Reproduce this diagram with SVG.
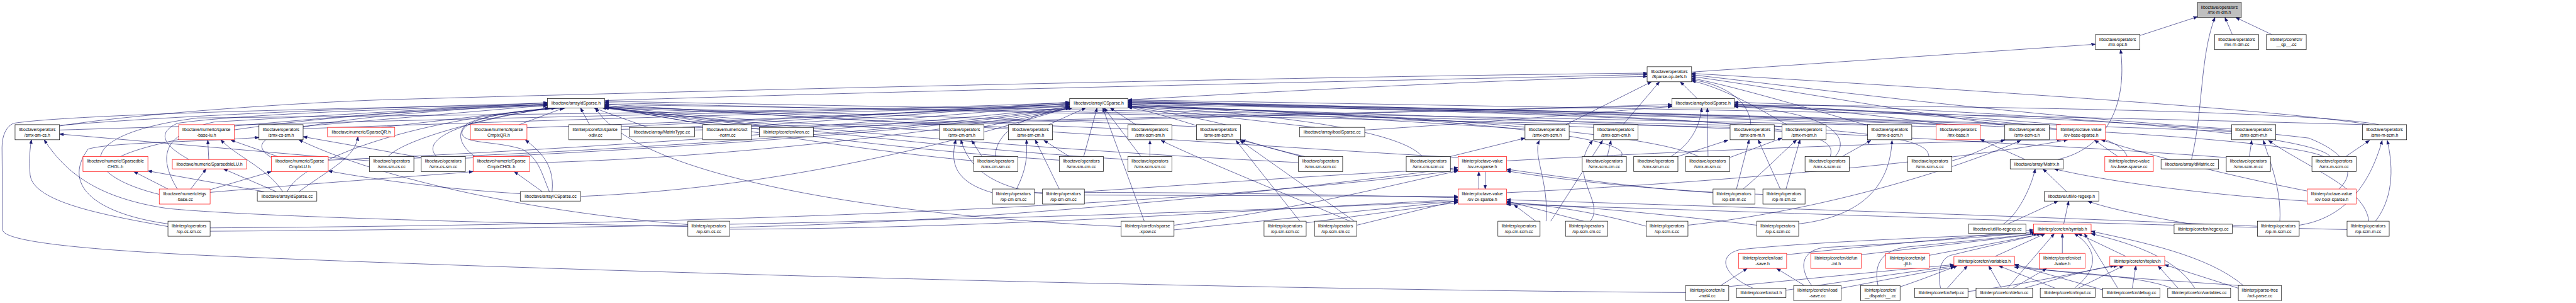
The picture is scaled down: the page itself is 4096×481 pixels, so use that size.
<svg xmlns="http://www.w3.org/2000/svg" width="4096" height="481" viewBox="0 0 4096 481">
<defs>
<style>
.n rect{fill:#fff;stroke:#000;stroke-width:1.3}
.r rect{stroke:#f00}
.g rect{fill:#bfbfbf}
text{font-family:"Liberation Sans",Arial,Helvetica,sans-serif;font-size:13px;text-anchor:middle;fill:#000}
#edges path{fill:none;stroke:#191970;stroke-width:1.2;marker-end:url(#a)}
</style>
<marker id="a" markerUnits="userSpaceOnUse" markerWidth="13" markerHeight="10" refX="12" refY="4.5" orient="auto" viewBox="0 0 13 10"><path d="M0,0 L12,4.5 L0,9 z" fill="#191970" stroke="#191970" stroke-width="1"/></marker>
</defs>
<rect width="4096" height="481" fill="#fff"/>
<g transform="scale(0.532)">
<g id="edges">
<path d="M6396,106 L6568,50"/>
<path d="M6672,103 L6650,52"/>
<path d="M6790,103 L6682,52"/>
<path d="M6550,476 C6585,330 6575,170 6620,52"/>
<path d="M5056,215 L6263,132"/>
<path d="M6150,476 C6290,445 6360,320 6338,148"/>
<path d="M5073,294 L5022,244"/>
<path d="M1807,300 C3000,262 4400,236 4923,222"/>
<path d="M3371,298 C4000,262 4600,234 4923,228"/>
<path d="M178,376 C400,340 900,305 1170,297 C2500,260 4000,228 4923,218"/>
<path d="M178,374 C600,340 1200,318 1636,308"/>
<path d="M178,388 C1200,356 2500,332 3197,312"/>
<path d="M700,376 C1000,350 1300,322 1636,312"/>
<path d="M906,377 L1636,314"/>
<path d="M906,384 C1800,352 2600,332 3197,316"/>
<path d="M1140,380 L1645,322"/>
<path d="M1552,372 L1685,322"/>
<path d="M1575,381 C2200,360 2800,332 3197,318"/>
<path d="M1762,372 L1735,322"/>
<path d="M1857,378 C2400,352 2900,326 3197,310"/>
<path d="M1857,386 C3000,362 4200,332 4997,316"/>
<path d="M1936,380 L1775,322"/>
<path d="M2040,380 L3197,305"/>
<path d="M2076,388 C3200,362 4300,332 4997,312"/>
<path d="M2110,372 L1807,318"/>
<path d="M2246,376 L3197,308"/>
<path d="M2300,380 L1800,322"/>
<path d="M2400,380 L3197,313"/>
<path d="M2941,378 L3205,322"/>
<path d="M2808,390 C2400,372 2000,342 1807,314"/>
<path d="M3134,372 L3245,322"/>
<path d="M3014,380 C2600,362 2100,332 1807,310"/>
<path d="M3395,372 L3318,322"/>
<path d="M3371,385 C2800,362 2200,332 1807,316"/>
<path d="M3576,378 C3000,352 2300,332 1807,320"/>
<path d="M3708,385 C3600,352 3450,330 3371,318"/>
<path d="M4079,388 C4500,362 4800,332 4997,318"/>
<path d="M3930,380 L3371,316"/>
<path d="M4680,372 L4936,244"/>
<path d="M4558,385 C4200,362 3700,332 3371,312"/>
<path d="M4851,372 L4960,244"/>
<path d="M4763,380 C4300,362 3700,327 3371,310"/>
<path d="M5233,372 C5230,300 5150,250 5056,238"/>
<path d="M5171,380 C4000,352 2500,326 1807,306"/>
<path d="M5340,372 C5250,320 5150,262 5056,241"/>
<path d="M5326,378 C4200,347 2600,324 1807,312"/>
<path d="M5582,374 C5400,322 5200,262 5056,233"/>
<path d="M5590,372 C5000,342 4000,322 3371,306"/>
<path d="M5787,378 C4500,347 2800,322 1807,302"/>
<path d="M5800,372 C5000,342 4000,320 3371,302"/>
<path d="M5820,372 C5600,342 5400,322 5184,312"/>
<path d="M5992,374 C5700,332 5300,262 5056,228"/>
<path d="M6000,372 C5200,342 4000,318 3371,300"/>
<path d="M6160,372 C5800,342 5500,322 5184,316"/>
<path d="M6670,385 C6000,342 5400,262 5056,223"/>
<path d="M6670,392 C5500,347 4200,320 3371,304"/>
<path d="M7080,372 C6800,322 5600,252 5056,219"/>
<path d="M7070,372 C6000,342 4500,317 3371,298"/>
<path d="M7110,372 C6900,330 5800,315 5184,314"/>
<path d="M360,467 C500,400 1000,332 1636,316"/>
<path d="M624,476 L621,418"/>
<path d="M565,476 C500,440 460,400 530,368 C700,342 1200,322 1636,314"/>
<path d="M830,467 L690,418"/>
<path d="M981,478 C1800,442 2600,382 3197,320"/>
<path d="M811,470 C700,400 900,352 1636,310"/>
<path d="M1104,480 L178,400"/>
<path d="M1160,467 C1200,422 1400,362 1640,322"/>
<path d="M1237,472 C2000,442 2800,382 3197,318"/>
<path d="M1259,470 L906,408"/>
<path d="M1305,467 C1250,412 1400,352 1660,322"/>
<path d="M1391,472 C2000,442 2800,392 3197,320"/>
<path d="M1583,486 C2200,472 2900,382 3197,322"/>
<path d="M1420,467 C1380,440 1360,400 1395,370 C1450,340 1600,328 1690,322"/>
<path d="M2935,467 L2904,419"/>
<path d="M2975,467 C2975,400 3050,342 3205,322"/>
<path d="M2910,480 C2500,442 2000,352 1807,320"/>
<path d="M3196,467 L3120,419"/>
<path d="M3239,467 L3279,322"/>
<path d="M3166,478 C2600,442 2100,362 1807,318"/>
<path d="M3437,467 L3437,419"/>
<path d="M3410,467 L3300,322"/>
<path d="M3371,476 C2800,442 2200,362 1807,320"/>
<path d="M3890,467 L3710,418"/>
<path d="M3900,467 C3700,422 3500,342 3371,320"/>
<path d="M3881,485 C3000,442 2200,362 1807,322"/>
<path d="M4335,467 L4558,412"/>
<path d="M4250,467 C4200,402 3900,342 3371,318"/>
<path d="M4439,512 L4439,564"/>
<path d="M4358,470 C3500,422 2500,342 1807,322"/>
<path d="M4503,480 C5200,442 5800,422 6160,417"/>
<path d="M4804,467 L4815,419"/>
<path d="M4845,467 C4900,400 4200,340 3371,316"/>
<path d="M5015,467 L5165,418"/>
<path d="M4994,467 C5050,432 5080,382 5086,322"/>
<path d="M5170,470 L5326,412"/>
<path d="M5105,467 L5103,322"/>
<path d="M5077,467 C4900,382 4000,332 3371,316"/>
<path d="M5506,467 L5592,419"/>
<path d="M5470,467 C5500,382 5300,342 3371,312"/>
<path d="M5485,467 C5540,402 5450,332 5184,318"/>
<path d="M5834,480 C5900,462 5950,432 5992,417"/>
<path d="M5765,467 C5760,402 5600,362 3371,306"/>
<path d="M6053,476 L5919,416"/>
<path d="M6330,467 L6260,418"/>
<path d="M6358,467 C6330,402 6200,362 5184,310"/>
<path d="M6723,467 L6730,419"/>
<path d="M6654,470 C6000,422 4500,342 3371,320"/>
<path d="M7011,467 L7082,419"/>
<path d="M6945,467 C6800,402 5600,342 3371,308"/>
<path d="M6965,467 C6900,392 6000,332 5184,305"/>
<path d="M502,564 L400,512"/>
<path d="M570,564 L616,504"/>
<path d="M628,566 L811,512"/>
<path d="M628,574 C1000,542 1300,522 1414,512"/>
<path d="M530,564 C480,480 470,402 640,364 L1636,306"/>
<path d="M476,580 C230,520 220,400 590,352 C1500,342 2600,332 3197,306"/>
<path d="M893,572 C999,496 1060,470 1070,408"/>
<path d="M826,572 L668,504"/>
<path d="M790,572 L442,510"/>
<path d="M858,572 C900,482 1200,362 1660,322"/>
<path d="M845,572 C800,502 700,462 660,417"/>
<path d="M1621,572 L1537,512"/>
<path d="M1650,572 C1660,482 1600,442 1570,417"/>
<path d="M1736,586 C2300,562 2800,442 3197,320"/>
<path d="M1555,578 C1300,562 1100,532 981,510"/>
<path d="M1642,572 C1620,520 1610,470 1560,445 C1480,420 1390,430 1381,400 C1375,360 1500,330 1690,322"/>
<path d="M2966,575 C2850,542 2840,482 2857,417"/>
<path d="M3038,564 C3070,502 3070,462 3068,417"/>
<path d="M3166,564 L3094,417"/>
<path d="M3116,578 C3000,562 2900,522 2872,417"/>
<path d="M3092,575 C3600,572 4000,582 4358,590"/>
<path d="M3241,582 L4358,586"/>
<path d="M3241,572 C3700,542 4100,512 4358,505"/>
<path d="M4420,564 L4420,512"/>
<path d="M4503,575 C5200,542 5900,472 6180,417"/>
<path d="M5190,564 L5228,417"/>
<path d="M5120,575 C4900,562 4700,532 4503,505"/>
<path d="M5210,564 C5260,522 5310,472 5370,417"/>
<path d="M5338,564 L5380,417"/>
<path d="M5321,564 L5255,417"/>
<path d="M5269,580 C5000,572 4700,542 4503,510"/>
<path d="M6177,572 L6106,504"/>
<path d="M6990,564 C7060,502 6980,442 6900,412 C6500,362 5600,332 5184,318"/>
<path d="M6896,570 C6700,532 6450,472 6280,417"/>
<path d="M6896,600 C6600,582 6300,542 6140,504"/>
<path d="M502,668 C300,640 180,560 263,445 C330,424 600,424 774,410"/>
<path d="M502,676 C300,640 100,602 90,522 C86,472 90,442 94,417"/>
<path d="M628,680 C2000,672 3500,622 4358,508"/>
<path d="M628,690 C2000,682 3500,642 4358,600"/>
<path d="M2056,676 C1300,662 700,642 500,622 C300,592 200,522 132,417"/>
<path d="M2056,670 C1700,642 1200,562 893,417"/>
<path d="M2181,678 C3000,662 3900,562 4358,500"/>
<path d="M2181,684 C3000,682 3800,622 4358,596"/>
<path d="M3420,660 L3296,322"/>
<path d="M3351,676 C2600,642 1900,522 1780,322"/>
<path d="M3509,672 C3900,622 4200,542 4358,510"/>
<path d="M3509,686 L4358,600"/>
<path d="M3885,660 L3694,419"/>
<path d="M3904,665 L4358,604"/>
<path d="M4048,660 L3706,419"/>
<path d="M4055,672 L4358,598"/>
<path d="M4035,660 C3900,602 3600,482 3470,419"/>
<path d="M4590,660 L4525,611"/>
<path d="M4621,660 C4630,542 4580,462 4601,419"/>
<path d="M4635,660 L4790,419"/>
<path d="M4753,660 C4800,602 4680,522 4760,419"/>
<path d="M4733,660 L4503,600"/>
<path d="M4920,675 C4800,642 4650,612 4503,604"/>
<path d="M5045,672 C5500,622 5900,482 6040,419"/>
<path d="M5376,668 C5600,642 5650,522 5655,419"/>
<path d="M5251,672 C5000,642 4700,612 4503,606"/>
<path d="M6000,669 L6151,600"/>
<path d="M5987,669 C6030,642 6070,562 6083,504"/>
<path d="M6168,669 L6183,600"/>
<path d="M6550,669 C6400,642 6300,622 6240,600"/>
<path d="M6814,660 C6820,562 6780,472 6765,419"/>
<path d="M6872,672 C7000,652 7080,562 7120,419"/>
<path d="M6747,675 C6000,642 5000,612 4503,596"/>
<path d="M7080,660 C7070,562 6900,502 6780,419"/>
<path d="M7100,660 C7160,582 7150,482 7135,419"/>
<path d="M7015,685 C6000,662 5000,622 4503,610"/>
<path d="M5340,760 C5600,732 5900,707 6078,686"/>
<path d="M5563,760 C5800,732 6000,710 6090,697"/>
<path d="M5766,762 L6110,697"/>
<path d="M5963,765 L6113,697"/>
<path d="M6164,756 L6164,697"/>
<path d="M6354,765 L6211,697"/>
<path d="M5143,852 L5222,801"/>
<path d="M5038,873 C3500,862 1500,802 590,761 C200,742 10,717 8,686 L6,440 C6,402 20,377 40,368 C200,342 1000,322 1636,312"/>
<path d="M5167,855 C5400,832 5700,802 5840,790"/>
<path d="M5240,860 C5150,822 5130,762 5200,745 C5400,722 5900,702 6085,697"/>
<path d="M5338,866 C5500,842 5700,812 5845,793"/>
<path d="M5393,852 L5310,801"/>
<path d="M5503,860 C5600,842 5750,812 5842,797"/>
<path d="M5415,852 C5370,792 5390,742 5460,738 C5700,726 5950,706 6080,692"/>
<path d="M5613,852 C5600,792 5620,747 5700,737 C5850,722 6000,707 6090,697"/>
<path d="M5679,856 C5750,832 5800,812 5850,793"/>
<path d="M5820,860 L5880,793"/>
<path d="M5800,860 C5790,812 5800,772 5830,762 C5950,732 6050,712 6100,697"/>
<path d="M5882,870 C6100,842 6250,802 6330,793"/>
<path d="M5982,860 L5944,793"/>
<path d="M6000,860 L6140,697"/>
<path d="M6016,860 L6117,801"/>
<path d="M6050,860 C6150,832 6250,802 6320,793"/>
<path d="M6143,860 L5974,793"/>
<path d="M6200,860 C6275,802 6270,742 6200,697"/>
<path d="M6211,860 L6347,793"/>
<path d="M6373,860 L6384,793"/>
<path d="M6285,865 L6021,790"/>
<path d="M6330,860 L6230,697"/>
<path d="M6490,860 C6400,820 6100,808 6021,797"/>
<path d="M6560,860 C6500,762 6350,722 6250,697"/>
<path d="M6510,860 L6450,793"/>
<path d="M6695,852 C6400,832 6100,812 6021,789"/>
<path d="M6690,860 L6470,790"/>
<path d="M6705,852 C6600,762 6400,722 6250,690"/>
</g>
<g id="n_mxmdmh" class="n g"><rect x="6568" y="7" width="131" height="45"/><text x="6633.5" y="25.5">liboctave/operators</text><text x="6633.5" y="42">/mx-m-dm.h</text></g>
<g id="n_mxops" class="n"><rect x="6263" y="103" width="133" height="45"/><text x="6329.5" y="121.5">liboctave/operators</text><text x="6329.5" y="138">/mx-ops.h</text></g>
<g id="n_mxmdmcc" class="n"><rect x="6619" y="103" width="132" height="45"/><text x="6685" y="121.5">liboctave/operators</text><text x="6685" y="138">/mx-m-dm.cc</text></g>
<g id="n_qpcc" class="n"><rect x="6774" y="103" width="119" height="45"/><text x="6833.5" y="121.5">libinterp/corefcn/</text><text x="6833.5" y="138">__qp__.cc</text></g>
<g id="n_spopdefs" class="n"><rect x="4923" y="199" width="133" height="45"/><text x="4989.5" y="217.5">liboctave/operators</text><text x="4989.5" y="234">/Sparse-op-defs.h</text></g>
<g id="n_dSparseh" class="n"><rect x="1636" y="294" width="171" height="28"/><text x="1721.5" y="312.5">liboctave/array/dSparse.h</text></g>
<g id="n_CSparseh" class="n"><rect x="3197" y="294" width="174" height="28"/><text x="3284" y="312.5">liboctave/array/CSparse.h</text></g>
<g id="n_boolSparseh" class="n"><rect x="4997" y="294" width="187" height="28"/><text x="5090.5" y="312.5">liboctave/array/boolSparse.h</text></g>
<g id="n_smxsmcsh" class="n"><rect x="45" y="372" width="133" height="45"/><text x="111.5" y="390.5">liboctave/operators</text><text x="111.5" y="407">/smx-sm-cs.h</text></g>
<g id="n_sparsebaselu" class="n r"><rect x="534" y="372" width="166" height="45"/><text x="617" y="390.5">liboctave/numeric/sparse</text><text x="617" y="407">-base-lu.h</text></g>
<g id="n_smxcssmh" class="n"><rect x="774" y="372" width="132" height="45"/><text x="840" y="390.5">liboctave/operators</text><text x="840" y="407">/smx-cs-sm.h</text></g>
<g id="n_SparseQR" class="n r"><rect x="979" y="380" width="201" height="28"/><text x="1079.5" y="398.5">liboctave/numeric/SparseQR.h</text></g>
<g id="n_SparseCmplxQR" class="n r"><rect x="1406" y="372" width="169" height="45"/><text x="1490.5" y="390.5">liboctave/numeric/Sparse</text><text x="1490.5" y="407">CmplxQR.h</text></g>
<g id="n_sparsexdiv" class="n"><rect x="1700" y="372" width="157" height="45"/><text x="1778.5" y="390.5">libinterp/corefcn/sparse</text><text x="1778.5" y="407">-xdiv.cc</text></g>
<g id="n_MatrixTypecc" class="n"><rect x="1881" y="380" width="195" height="28"/><text x="1978.5" y="398.5">liboctave/array/MatrixType.cc</text></g>
<g id="n_octnorm" class="n"><rect x="2100" y="372" width="146" height="45"/><text x="2173" y="390.5">liboctave/numeric/oct</text><text x="2173" y="407">-norm.cc</text></g>
<g id="n_kroncc" class="n"><rect x="2270" y="380" width="161" height="28"/><text x="2350.5" y="398.5">libinterp/corefcn/kron.cc</text></g>
<g id="n_smxcmsmh" class="n"><rect x="2808" y="372" width="133" height="45"/><text x="2874.5" y="390.5">liboctave/operators</text><text x="2874.5" y="407">/smx-cm-sm.h</text></g>
<g id="n_smxsmcmh" class="n"><rect x="3014" y="372" width="132" height="45"/><text x="3080" y="390.5">liboctave/operators</text><text x="3080" y="407">/smx-sm-cm.h</text></g>
<g id="n_smxscmsmh" class="n"><rect x="3371" y="372" width="132" height="45"/><text x="3437" y="390.5">liboctave/operators</text><text x="3437" y="407">/smx-scm-sm.h</text></g>
<g id="n_smxsmscmh" class="n"><rect x="3576" y="372" width="132" height="45"/><text x="3642" y="390.5">liboctave/operators</text><text x="3642" y="407">/smx-sm-scm.h</text></g>
<g id="n_boolSparsecc" class="n"><rect x="3884" y="380" width="195" height="28"/><text x="3981.5" y="398.5">liboctave/array/boolSparse.cc</text></g>
<g id="n_smxcmscmh" class="n"><rect x="4558" y="372" width="132" height="45"/><text x="4624" y="390.5">liboctave/operators</text><text x="4624" y="407">/smx-cm-scm.h</text></g>
<g id="n_smxscmcmh" class="n"><rect x="4763" y="372" width="133" height="45"/><text x="4829.5" y="390.5">liboctave/operators</text><text x="4829.5" y="407">/smx-scm-cm.h</text></g>
<g id="n_smxsmmh" class="n"><rect x="5171" y="372" width="132" height="45"/><text x="5237" y="390.5">liboctave/operators</text><text x="5237" y="407">/smx-sm-m.h</text></g>
<g id="n_smxmsmh" class="n"><rect x="5326" y="372" width="132" height="45"/><text x="5392" y="390.5">liboctave/operators</text><text x="5392" y="407">/smx-m-sm.h</text></g>
<g id="n_smxsscmh" class="n"><rect x="5582" y="372" width="132" height="45"/><text x="5648" y="390.5">liboctave/operators</text><text x="5648" y="407">/smx-s-scm.h</text></g>
<g id="n_mxbaseh" class="n r"><rect x="5787" y="372" width="132" height="45"/><text x="5853" y="390.5">liboctave/operators</text><text x="5853" y="407">/mx-base.h</text></g>
<g id="n_smxscmsh" class="n"><rect x="5992" y="372" width="133" height="45"/><text x="6058.5" y="390.5">liboctave/operators</text><text x="6058.5" y="407">/smx-scm-s.h</text></g>
<g id="n_ovbasesparseh" class="n r"><rect x="6147" y="372" width="146" height="45"/><text x="6220" y="390.5">libinterp/octave-value</text><text x="6220" y="407">/ov-base-sparse.h</text></g>
<g id="n_smxscmmh" class="n"><rect x="6670" y="372" width="132" height="45"/><text x="6736" y="390.5">liboctave/operators</text><text x="6736" y="407">/smx-scm-m.h</text></g>
<g id="n_smxmscmh" class="n"><rect x="7061" y="372" width="132" height="45"/><text x="7127" y="390.5">liboctave/operators</text><text x="7127" y="407">/smx-m-scm.h</text></g>
<g id="n_SparsedbleCHOL" class="n r"><rect x="248" y="467" width="194" height="45"/><text x="345" y="485.5">liboctave/numeric/Sparsedble</text><text x="345" y="502">CHOL.h</text></g>
<g id="n_SparsedbleLU" class="n r"><rect x="515" y="476" width="222" height="28"/><text x="626" y="494.5">liboctave/numeric/SparsedbleLU.h</text></g>
<g id="n_SparseCmplxLU" class="n r"><rect x="811" y="467" width="170" height="45"/><text x="896" y="485.5">liboctave/numeric/Sparse</text><text x="896" y="502">CmplxLU.h</text></g>
<g id="n_smxsmcscc" class="n"><rect x="1104" y="467" width="133" height="45"/><text x="1170.5" y="485.5">liboctave/operators</text><text x="1170.5" y="502">/smx-sm-cs.cc</text></g>
<g id="n_smxcssmcc" class="n"><rect x="1259" y="467" width="132" height="45"/><text x="1325" y="485.5">liboctave/operators</text><text x="1325" y="502">/smx-cs-sm.cc</text></g>
<g id="n_SparseCmplxCHOL" class="n r"><rect x="1414" y="467" width="169" height="45"/><text x="1498.5" y="485.5">liboctave/numeric/Sparse</text><text x="1498.5" y="502">CmplxCHOL.h</text></g>
<g id="n_smxcmsmcc" class="n"><rect x="2910" y="467" width="132" height="45"/><text x="2976" y="485.5">liboctave/operators</text><text x="2976" y="502">/smx-cm-sm.cc</text></g>
<g id="n_smxsmcmcc" class="n"><rect x="3166" y="467" width="132" height="45"/><text x="3232" y="485.5">liboctave/operators</text><text x="3232" y="502">/smx-sm-cm.cc</text></g>
<g id="n_smxscmsmcc" class="n"><rect x="3371" y="467" width="132" height="45"/><text x="3437" y="485.5">liboctave/operators</text><text x="3437" y="502">/smx-scm-sm.cc</text></g>
<g id="n_smxsmscmcc" class="n"><rect x="3881" y="467" width="132" height="45"/><text x="3947" y="485.5">liboctave/operators</text><text x="3947" y="502">/smx-sm-scm.cc</text></g>
<g id="n_smxcmscmcc" class="n"><rect x="4203" y="467" width="132" height="45"/><text x="4269" y="485.5">liboctave/operators</text><text x="4269" y="502">/smx-cm-scm.cc</text></g>
<g id="n_ovresparseh" class="n r"><rect x="4358" y="467" width="145" height="45"/><text x="4430.5" y="485.5">libinterp/octave-value</text><text x="4430.5" y="502">/ov-re-sparse.h</text></g>
<g id="n_smxscmcmcc" class="n"><rect x="4729" y="467" width="132" height="45"/><text x="4795" y="485.5">liboctave/operators</text><text x="4795" y="502">/smx-scm-cm.cc</text></g>
<g id="n_smxsmmcc" class="n"><rect x="4883" y="467" width="132" height="45"/><text x="4949" y="485.5">liboctave/operators</text><text x="4949" y="502">/smx-sm-m.cc</text></g>
<g id="n_smxmsmcc" class="n"><rect x="5038" y="467" width="132" height="45"/><text x="5104" y="485.5">liboctave/operators</text><text x="5104" y="502">/smx-m-sm.cc</text></g>
<g id="n_smxsscmcc" class="n"><rect x="5395" y="467" width="132" height="45"/><text x="5461" y="485.5">liboctave/operators</text><text x="5461" y="502">/smx-s-scm.cc</text></g>
<g id="n_smxscmscc" class="n"><rect x="5702" y="467" width="132" height="45"/><text x="5768" y="485.5">liboctave/operators</text><text x="5768" y="502">/smx-scm-s.cc</text></g>
<g id="n_Matrixh" class="n"><rect x="6008" y="476" width="159" height="28"/><text x="6087.5" y="494.5">liboctave/array/Matrix.h</text></g>
<g id="n_ovbasesparsecc" class="n r"><rect x="6291" y="467" width="145" height="45"/><text x="6363.5" y="485.5">libinterp/octave-value</text><text x="6363.5" y="502">/ov-base-sparse.cc</text></g>
<g id="n_dMatrixcc" class="n"><rect x="6459" y="476" width="172" height="28"/><text x="6545" y="494.5">liboctave/array/dMatrix.cc</text></g>
<g id="n_smxscmmcc" class="n"><rect x="6654" y="467" width="132" height="45"/><text x="6720" y="485.5">liboctave/operators</text><text x="6720" y="502">/smx-scm-m.cc</text></g>
<g id="n_smxmscmcc" class="n"><rect x="6910" y="467" width="132" height="45"/><text x="6976" y="485.5">liboctave/operators</text><text x="6976" y="502">/smx-m-scm.cc</text></g>
<g id="n_eigsbasecc" class="n r"><rect x="476" y="564" width="152" height="45"/><text x="552" y="582.5">liboctave/numeric/eigs</text><text x="552" y="599">-base.cc</text></g>
<g id="n_dSparsecc" class="n"><rect x="769" y="572" width="178" height="28"/><text x="858" y="590.5">liboctave/array/dSparse.cc</text></g>
<g id="n_CSparsecc" class="n"><rect x="1555" y="572" width="181" height="28"/><text x="1645.5" y="590.5">liboctave/array/CSparse.cc</text></g>
<g id="n_opcmsmcc" class="n"><rect x="2966" y="564" width="126" height="45"/><text x="3029" y="582.5">libinterp/operators</text><text x="3029" y="599">/op-cm-sm.cc</text></g>
<g id="n_opsmcmcc" class="n"><rect x="3116" y="564" width="125" height="45"/><text x="3178.5" y="582.5">libinterp/operators</text><text x="3178.5" y="599">/op-sm-cm.cc</text></g>
<g id="n_ovcxsparseh" class="n r"><rect x="4358" y="564" width="145" height="45"/><text x="4430.5" y="582.5">libinterp/octave-value</text><text x="4430.5" y="599">/ov-cx-sparse.h</text></g>
<g id="n_opsmmcc" class="n"><rect x="5120" y="564" width="125" height="45"/><text x="5182.5" y="582.5">libinterp/operators</text><text x="5182.5" y="599">/op-sm-m.cc</text></g>
<g id="n_opmsmcc" class="n"><rect x="5269" y="564" width="126" height="45"/><text x="5332" y="582.5">libinterp/operators</text><text x="5332" y="599">/op-m-sm.cc</text></g>
<g id="n_loregexph" class="n"><rect x="6110" y="572" width="163" height="28"/><text x="6191.5" y="590.5">liboctave/util/lo-regexp.h</text></g>
<g id="n_ovboolsparseh" class="n r"><rect x="6896" y="564" width="146" height="45"/><text x="6969" y="582.5">libinterp/octave-value</text><text x="6969" y="599">/ov-bool-sparse.h</text></g>
<g id="n_opcssmcc" class="n"><rect x="502" y="660" width="126" height="45"/><text x="565" y="678.5">libinterp/operators</text><text x="565" y="695">/op-cs-sm.cc</text></g>
<g id="n_opsmcscc" class="n"><rect x="2056" y="660" width="125" height="45"/><text x="2118.5" y="678.5">libinterp/operators</text><text x="2118.5" y="695">/op-sm-cs.cc</text></g>
<g id="n_sparsexpowcc" class="n"><rect x="3351" y="660" width="158" height="45"/><text x="3430" y="678.5">libinterp/corefcn/sparse</text><text x="3430" y="695">-xpow.cc</text></g>
<g id="n_opsmscmcc" class="n"><rect x="3778" y="660" width="126" height="45"/><text x="3841" y="678.5">libinterp/operators</text><text x="3841" y="695">/op-sm-scm.cc</text></g>
<g id="n_opscmsmcc" class="n"><rect x="3929" y="660" width="126" height="45"/><text x="3992" y="678.5">libinterp/operators</text><text x="3992" y="695">/op-scm-sm.cc</text></g>
<g id="n_opcmscmcc" class="n"><rect x="4477" y="660" width="126" height="45"/><text x="4540" y="678.5">libinterp/operators</text><text x="4540" y="695">/op-cm-scm.cc</text></g>
<g id="n_opscmcmcc" class="n"><rect x="4679" y="660" width="126" height="45"/><text x="4742" y="678.5">libinterp/operators</text><text x="4742" y="695">/op-scm-cm.cc</text></g>
<g id="n_opscmscc" class="n"><rect x="4920" y="660" width="125" height="45"/><text x="4982.5" y="678.5">libinterp/operators</text><text x="4982.5" y="695">/op-scm-s.cc</text></g>
<g id="n_opsscmcc" class="n"><rect x="5251" y="660" width="125" height="45"/><text x="5313.5" y="678.5">libinterp/operators</text><text x="5313.5" y="695">/op-s-scm.cc</text></g>
<g id="n_loregexpcc" class="n"><rect x="5884" y="669" width="171" height="28"/><text x="5969.5" y="687.5">liboctave/util/lo-regexp.cc</text></g>
<g id="n_symtabh" class="n r"><rect x="6078" y="669" width="172" height="28"/><text x="6164" y="687.5">libinterp/corefcn/symtab.h</text></g>
<g id="n_regexpcc" class="n"><rect x="6498" y="669" width="174" height="28"/><text x="6585" y="687.5">libinterp/corefcn/regexp.cc</text></g>
<g id="n_opmscmcc" class="n"><rect x="6747" y="660" width="125" height="45"/><text x="6809.5" y="678.5">libinterp/operators</text><text x="6809.5" y="695">/op-m-scm.cc</text></g>
<g id="n_opscmmcc" class="n"><rect x="7015" y="660" width="126" height="45"/><text x="7078" y="678.5">libinterp/operators</text><text x="7078" y="695">/op-scm-m.cc</text></g>
<g id="n_loadsaveh" class="n r"><rect x="5196" y="756" width="144" height="45"/><text x="5268" y="774.5">libinterp/corefcn/load</text><text x="5268" y="791">-save.h</text></g>
<g id="n_defunint" class="n r"><rect x="5412" y="756" width="151" height="45"/><text x="5487.5" y="774.5">libinterp/corefcn/defun</text><text x="5487.5" y="791">-int.h</text></g>
<g id="n_ptjith" class="n r"><rect x="5636" y="756" width="130" height="45"/><text x="5701" y="774.5">libinterp/corefcn/pt</text><text x="5701" y="791">-jit.h</text></g>
<g id="n_variablesh" class="n r"><rect x="5840" y="765" width="181" height="28"/><text x="5930.5" y="783.5">libinterp/corefcn/variables.h</text></g>
<g id="n_octlvalueh" class="n r"><rect x="6095" y="756" width="137" height="45"/><text x="6163.5" y="774.5">libinterp/corefcn/oct</text><text x="6163.5" y="791">-lvalue.h</text></g>
<g id="n_toplevh" class="n r"><rect x="6306" y="765" width="164" height="28"/><text x="6388" y="783.5">libinterp/corefcn/toplev.h</text></g>
<g id="n_lsmat4cc" class="n"><rect x="5038" y="852" width="129" height="45"/><text x="5102.5" y="870.5">libinterp/corefcn/ls</text><text x="5102.5" y="887">-mat4.cc</text></g>
<g id="n_octh" class="n"><rect x="5190" y="860" width="148" height="28"/><text x="5264" y="878.5">libinterp/corefcn/oct.h</text></g>
<g id="n_loadsavecc" class="n"><rect x="5361" y="852" width="142" height="45"/><text x="5432" y="870.5">libinterp/corefcn/load</text><text x="5432" y="887">-save.cc</text></g>
<g id="n_dispatchcc" class="n"><rect x="5561" y="852" width="118" height="45"/><text x="5620" y="870.5">libinterp/corefcn/</text><text x="5620" y="887">__dispatch__.cc</text></g>
<g id="n_helpcc" class="n"><rect x="5723" y="860" width="159" height="28"/><text x="5802.5" y="878.5">libinterp/corefcn/help.cc</text></g>
<g id="n_defuncc" class="n"><rect x="5906" y="860" width="169" height="28"/><text x="5990.5" y="878.5">libinterp/corefcn/defun.cc</text></g>
<g id="n_inputcc" class="n"><rect x="6098" y="860" width="164" height="28"/><text x="6180" y="878.5">libinterp/corefcn/input.cc</text></g>
<g id="n_debugcc" class="n"><rect x="6285" y="860" width="171" height="28"/><text x="6370.5" y="878.5">libinterp/corefcn/debug.cc</text></g>
<g id="n_variablescc" class="n"><rect x="6479" y="860" width="188" height="28"/><text x="6573" y="878.5">libinterp/corefcn/variables.cc</text></g>
<g id="n_octparsecc" class="n"><rect x="6690" y="852" width="129" height="45"/><text x="6754.5" y="870.5">libinterp/parse-tree</text><text x="6754.5" y="887">/oct-parse.cc</text></g>
</g>
</svg>
